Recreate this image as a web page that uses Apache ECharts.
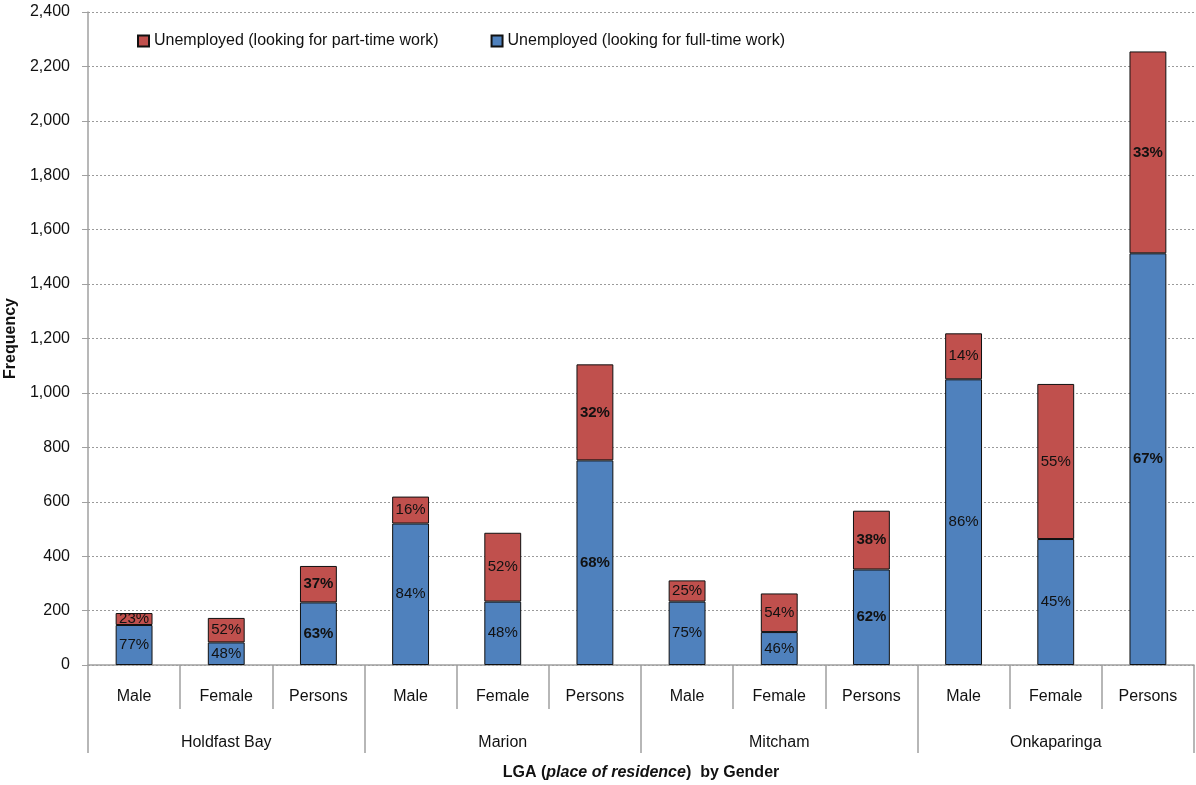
<!DOCTYPE html>
<html>
<head>
<meta charset="utf-8">
<script src="https://cdn.jsdelivr.net/npm/echarts@6/dist/echarts.min.js"></script>
<style>
  html, body { margin: 0; padding: 0; background: #fff; }
  #chart { width: 1196px; height: 785px; }
</style>
</head>
<body>
<div id="chart"></div>
<script>
// categories
const genders = ['Male', 'Female', 'Persons', 'Male', 'Female', 'Persons',
                 'Male', 'Female', 'Persons', 'Male', 'Female', 'Persons'];
const lgas = ['Holdfast Bay', 'Marion', 'Mitcham', 'Onkaparinga'];

// values
const fullTime = [147, 83, 230, 520, 233, 752, 233, 121, 351, 1050, 463, 1513];
const partTime = [44, 90, 134, 99, 253, 353, 78, 142, 216, 169, 570, 742];

// percentage labels shown in the bars
const fullPct = ['77%', '48%', '63%', '84%', '48%', '68%', '75%', '46%', '62%', '86%', '45%', '67%'];
const partPct = ['23%', '52%', '37%', '16%', '52%', '32%', '25%', '54%', '38%', '14%', '55%', '33%'];

const yTicks = [0, 200, 400, 600, 800, 1000, 1200, 1400, 1600, 1800, 2000, 2200, 2400];

const FONT = '"Liberation Sans Narrow", "Liberation Sans", Arial, sans-serif';
const gray = '#a0a0a0';

const chart = echarts.init(document.getElementById('chart'));

function pctLabel(arr) {
  return {
    show: true,
    position: 'inside',
    formatter: p => (p.dataIndex % 3 === 2 ? '{b|' : '{n|') + arr[p.dataIndex] + '}',
    rich: {
      n: { fontFamily: FONT, fontSize: 15, color: '#111' },
      b: { fontFamily: FONT, fontSize: 15, color: '#111', fontWeight: 'bold' }
    }
  };
}

const option = {
  animation: false,
  textStyle: { fontFamily: FONT },
  grid: { left: 88, right: 2, top: 12, bottom: 120, containLabel: false, outerBoundsMode: 'none' },
  legend: {
    data: ['Unemployed (looking for part-time work)', 'Unemployed (looking for full-time work)'],
    left: 132,
    top: 28,
    itemWidth: 11,
    itemHeight: 11,
    itemGap: 52,
    icon: 'rect',
    textStyle: { fontFamily: FONT, fontSize: 16, color: '#111' }
  },
  xAxis: [
    {
      type: 'category',
      data: genders,
      position: 'bottom',
      axisLine: { lineStyle: { color: gray, width: 1.5 } },
      axisTick: { show: true, length: 44, lineStyle: { color: gray, width: 1.5 } },
      axisLabel: { margin: 24, fontFamily: FONT, fontSize: 16, color: '#111', interval: 0 },
      name: '{b|LGA (}{bi|place of residence}{b|)  by Gender}',
      nameLocation: 'middle',
      nameGap: 100,
      nameTextStyle: {
        rich: {
          b: { fontFamily: FONT, fontSize: 16, fontWeight: 'bold', color: '#111' },
          bi: { fontFamily: FONT, fontSize: 16, fontWeight: 'bold', fontStyle: 'italic', color: '#111' }
        }
      }
    },
    {
      type: 'category',
      data: lgas,
      position: 'bottom',
      axisLine: { show: false },
      axisTick: { show: true, length: 88, lineStyle: { color: gray, width: 1.5 } },
      axisLabel: { margin: 70, fontFamily: FONT, fontSize: 16, color: '#111', interval: 0 },
      splitLine: { show: false }
    }
  ],
  yAxis: {
    type: 'value',
    min: 0,
    max: yTicks[yTicks.length - 1],
    interval: yTicks[1] - yTicks[0],
    axisLine: { show: true, lineStyle: { color: gray, width: 1.5 } },
    axisTick: { show: true, length: 6, lineStyle: { color: gray } },
    axisLabel: {
      fontFamily: FONT, fontSize: 16, color: '#111', margin: 18,
      formatter: v => v.toLocaleString('en-US')
    },
    splitLine: { lineStyle: { color: '#9a9a9a', type: [2, 2], width: 1 } },
    name: 'Frequency',
    nameLocation: 'middle',
    nameGap: 68,
    nameTextStyle: { fontFamily: FONT, fontSize: 16, fontWeight: 'bold', color: '#111' }
  },
  series: [
    {
      name: 'Unemployed (looking for full-time work)',
      type: 'bar',
      stack: 'total',
      barWidth: '40%',
      data: fullTime,
      itemStyle: { color: '#4F81BD', borderColor: '#111', borderWidth: 1 },
      label: pctLabel(fullPct)
    },
    {
      name: 'Unemployed (looking for part-time work)',
      type: 'bar',
      stack: 'total',
      barWidth: '40%',
      data: partTime,
      itemStyle: { color: '#C0504D', borderColor: '#111', borderWidth: 1 },
      label: pctLabel(partPct)
    }
  ]
};

chart.setOption(option);
</script>
</body>
</html>
